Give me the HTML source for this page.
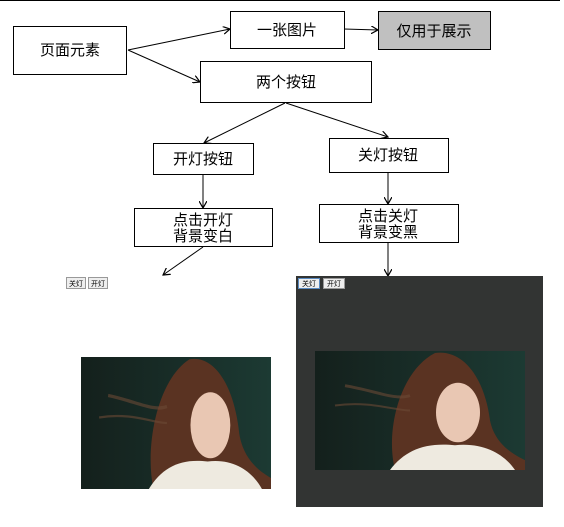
<!DOCTYPE html>
<html><head><meta charset="utf-8"><style>
html,body{margin:0;padding:0;background:#fff;}
body{width:564px;height:527px;position:relative;overflow:hidden;font-family:"Liberation Sans","Noto Sans CJK SC",sans-serif;}
</style></head><body>
<svg width="564" height="527" viewBox="0 0 564 527" xmlns="http://www.w3.org/2000/svg" style="position:absolute;left:0;top:0">
<defs>
<marker id="a" markerWidth="8" markerHeight="8" refX="7" refY="4" orient="auto" markerUnits="userSpaceOnUse">
<path d="M0,0 L7,4 L0,8" fill="none" stroke="#000" stroke-width="1.2"/></marker>
<linearGradient id="bg" x1="0" y1="0" x2="1" y2="0"><stop offset="0" stop-color="#14201c"/><stop offset="1" stop-color="#1c3a33"/></linearGradient>
<g id="ph">
<rect width="210" height="120" fill="url(#bg)"/>
<path d="M80,120 C70,80 85,20 120,2 C150,-2 170,30 175,70 C180,95 200,105 210,110 L210,120 Z" fill="#5a3322"/>
<path d="M30,35 C60,40 80,50 95,45" stroke="#6b4a35" stroke-width="3" fill="none" opacity=".6"/>
<path d="M20,55 C55,50 80,60 95,60" stroke="#6b4a35" stroke-width="2" fill="none" opacity=".6"/>
<ellipse cx="143" cy="62" rx="22" ry="30" fill="#e9c7b3"/>
<path d="M75,120 C90,100 110,92 140,95 C170,92 190,105 200,120 Z" fill="#eeeae0"/>
</g>
</defs>
<line x1="0" y1="0.5" x2="560" y2="0.5" stroke="#000"/>
<g fill="#fff" stroke="#000" stroke-width="1">
<rect x="13.5" y="26.5" width="113" height="48"/>
<rect x="230.5" y="11.5" width="114" height="37"/>
<rect x="378.5" y="11.5" width="112" height="38" fill="#c0c0c0"/>
<rect x="200.5" y="61.5" width="171" height="41"/>
<rect x="153.5" y="143.5" width="100" height="31"/>
<rect x="329.5" y="138.5" width="119" height="34"/>
<rect x="134.5" y="208.5" width="138" height="38"/>
<rect x="319.5" y="204.5" width="139" height="38"/>
</g>
<g stroke="#000" stroke-width="1" fill="none" marker-end="url(#a)">
<line x1="128" y1="50" x2="230" y2="29"/>
<line x1="128" y1="50" x2="200" y2="82"/>
<line x1="344" y1="29" x2="378" y2="30"/>
<line x1="285" y1="103" x2="204" y2="143"/>
<line x1="286" y1="103" x2="388" y2="137"/>
<line x1="203" y1="175" x2="203" y2="208"/>
<line x1="388" y1="173" x2="388" y2="204"/>
<line x1="203" y1="247" x2="163" y2="275"/>
<line x1="388" y1="243" x2="388" y2="276"/>
</g>
<g font-family="Liberation Sans,Noto Sans CJK SC,sans-serif" font-size="15" text-anchor="middle" fill="#000">
<text x="70" y="55">页面元素</text>
<text x="287" y="35">一张图片</text>
<text x="434" y="36">仅用于展示</text>
<text x="286" y="87">两个按钮</text>
<text x="203" y="164">开灯按钮</text>
<text x="388" y="160">关灯按钮</text>
<text x="203" y="225">点击开灯</text>
<text x="203" y="241">背景变白</text>
<text x="388" y="221">点击关灯</text>
<text x="388" y="237">背景变黑</text>
</g>
<g font-size="7" text-anchor="middle" font-family="Liberation Sans,Noto Sans CJK SC,sans-serif">
<rect x="66.5" y="277.5" width="19" height="11" fill="#eee" stroke="#999"/><text x="76" y="286">关灯</text>
<rect x="88.5" y="277.5" width="19" height="11" fill="#eee" stroke="#999"/><text x="98" y="286">开灯</text>
</g>
<svg x="81" y="357" width="190" height="132" viewBox="0 0 210 120" preserveAspectRatio="none"><use href="#ph"/></svg>
<rect x="296" y="276" width="247" height="231" fill="#323433"/>
<g font-size="7" text-anchor="middle" font-family="Liberation Sans,Noto Sans CJK SC,sans-serif">
<rect x="298.5" y="278.5" width="21" height="10" fill="#eee" stroke="#5a8ac0"/><text x="309" y="286">关灯</text>
<rect x="323.5" y="278.5" width="21" height="10" fill="#eee" stroke="#999"/><text x="334" y="286">开灯</text>
</g>
<svg x="315" y="351" width="210" height="119" viewBox="0 0 210 120" preserveAspectRatio="none"><use href="#ph"/></svg>
</svg>
</body></html>
